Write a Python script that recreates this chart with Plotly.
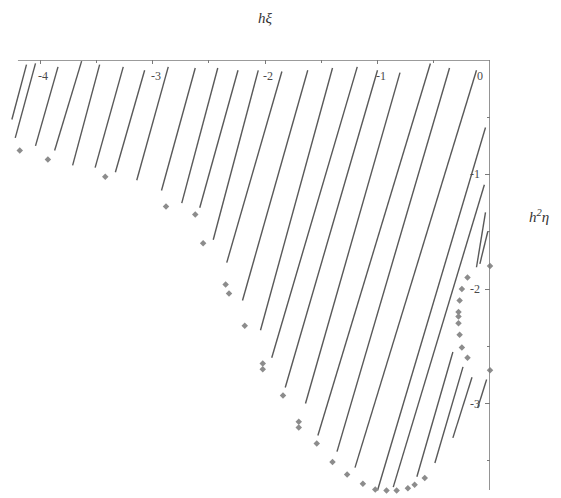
import plotly.graph_objects as go

# Hatching segments (start -> end), in data units (h*xi, h^2*eta)
seg_x0 = [-4.12, -4.04, -3.84, -3.63, -3.47, -3.26, -3.07, -2.86, -2.62, -2.42, -2.24,
          -2.06, -1.85, -1.62, -1.40, -1.18, -1.00, -0.80, -0.53, -0.36, -0.12,
          -0.04, -0.05, -0.04, -0.02, -0.33, -0.24, -0.16, -0.03]
seg_y0 = [-0.04, -0.03, -0.06, -0.01, -0.04, -0.06, -0.09, -0.06, -0.07, -0.07, -0.09,
          -0.09, -0.10, -0.09, -0.07, -0.06, -0.09, -0.11, -0.03, -0.07, -0.09,
          -0.59, -1.09, -1.33, -1.50, -2.55, -2.68, -2.77, -2.79]
seg_x1 = [-4.25, -4.22, -4.04, -3.87, -3.71, -3.51, -3.33, -3.14, -2.92, -2.74, -2.58,
          -2.46, -2.34, -2.20, -2.04, -1.94, -1.82, -1.64, -1.53, -1.36, -1.20,
          -1.00, -0.86, -0.12, -0.09, -0.65, -0.49, -0.33, -0.11]
seg_y1 = [-0.52, -0.68, -0.75, -0.79, -0.92, -0.94, -0.98, -1.05, -1.14, -1.25, -1.29,
          -1.57, -1.77, -2.10, -2.36, -2.60, -2.86, -3.00, -3.28, -3.42, -3.56,
          -3.76, -3.73, -1.81, -1.78, -3.64, -3.52, -3.30, -3.04]

# Boundary points
pt_x = [-4.18, -3.93, -3.42, -2.88, -2.62, -2.55, -2.35, -2.32, -2.18, -2.02, -2.02,
        -1.84, -1.70, -1.70, -1.54, -1.40, -1.27, -1.13, -1.02, -0.92, -0.83, -0.73,
        -0.67, -0.58,
        -0.20, -0.25, -0.27, -0.28, -0.28, -0.28, -0.27, -0.25, -0.20, 0.0, 0.0]
pt_y = [-0.79, -0.87, -1.02, -1.28, -1.35, -1.60, -1.96, -2.04, -2.32, -2.65, -2.70,
        -2.93, -3.16, -3.21, -3.35, -3.51, -3.62, -3.70, -3.75, -3.76, -3.76, -3.74,
        -3.71, -3.65,
        -1.90, -2.00, -2.10, -2.20, -2.24, -2.30, -2.40, -2.51, -2.60, -1.80, -2.71]

x_ticks = [-4, -3, -2, -1, 0]
x_tick_labels = ["-4", "-3", "-2", "-1", "0"]
y_ticks = [-1, -2, -3]
y_tick_labels = ["-1", "-2", "-3"]

# The page body has an 8px margin, so the figure itself is 8px smaller.
OFF = 8
W, H = 561 - OFF, 498 - OFF
SX, SY = 112.5, 114.5          # pixels per data unit
AX_X, AX_Y = 490 - OFF, 60 - OFF  # position of the axes corner inside the figure
X_MIN, X_MAX = -AX_X / SX, 0.0
Y_MIN, Y_MAX = -(H - AX_Y) / SY, 0.0

lx, ly = [], []
for a, b, c, d in zip(seg_x0, seg_y0, seg_x1, seg_y1):
    lx += [a, c, None]
    ly += [b, d, None]

fig = go.Figure()
fig.add_trace(go.Scatter(x=lx, y=ly, mode="lines",
                         line=dict(color="#595959", width=1.4),
                         hoverinfo="skip", showlegend=False))
fig.add_trace(go.Scatter(x=pt_x, y=pt_y, mode="markers",
                         marker=dict(symbol="diamond", size=5, color="#8c8c8c"),
                         cliponaxis=False, showlegend=False))

axis_col = "#7a7a7a"
fig.add_shape(type="line", x0=-4.196, y0=0, x1=0, y1=0, xref="x", yref="y",
              line=dict(color=axis_col, width=1.6))
fig.add_shape(type="line", x0=0, y0=0, x1=0, y1=-3.755, xref="x", yref="y",
              line=dict(color=axis_col, width=1.6))

tick_font = dict(family="Liberation Serif", size=12, color="#4a4a4a")
for v, t in zip(x_ticks, x_tick_labels):
    fig.add_annotation(x=v, y=0, xref="x", yref="y", text=t, showarrow=False,
                       font=tick_font, xanchor="center", yanchor="middle",
                       xshift=(-10 if v == 0 else 3), yshift=-16)
for v, t in zip(y_ticks, y_tick_labels):
    fig.add_annotation(x=0, y=v, xref="x", yref="y", text=t, showarrow=False,
                       font=tick_font, xanchor="right", yanchor="middle",
                       xshift=-8, yshift=0)


def px(xp):
    return (xp - OFF) / W


def py(yp):
    return 1 - (yp - OFF) / H


fig.add_annotation(x=px(265), y=py(18), xref="paper", yref="paper",
                   text="<i>hξ</i>", showarrow=False,
                   xanchor="center", yanchor="middle",
                   font=dict(family="Liberation Serif", size=15, color="#333"))
fig.add_annotation(x=px(527), y=py(216), xref="paper", yref="paper",
                   text="<i>h<sup>2</sup>η</i>", showarrow=False,
                   xanchor="left", yanchor="middle",
                   font=dict(family="Liberation Serif", size=15, color="#333"))

fig.update_layout(
    width=W, height=H, autosize=False,
    margin=dict(l=0, r=0, t=0, b=0, pad=0),
    paper_bgcolor="white", plot_bgcolor="white",
    xaxis=dict(domain=[0, AX_X / W], range=[X_MIN, X_MAX], side="top",
               showgrid=False, zeroline=False, showline=False,
               showticklabels=False, ticks="inside", ticklen=4,
               tickcolor=axis_col, tick0=0, dtick=1,
               minor=dict(ticks="inside", ticklen=3, tickcolor=axis_col,
                          tick0=0, dtick=0.5)),
    yaxis=dict(domain=[0, 1 - AX_Y / H], range=[Y_MIN, Y_MAX], side="right",
               showgrid=False, zeroline=False, showline=False,
               showticklabels=False, ticks="inside", ticklen=5,
               tickcolor=axis_col, tick0=0, dtick=1,
               minor=dict(ticks="inside", ticklen=3, tickcolor=axis_col,
                          tick0=0, dtick=0.5)),
)

fig.write_html("out.html")
